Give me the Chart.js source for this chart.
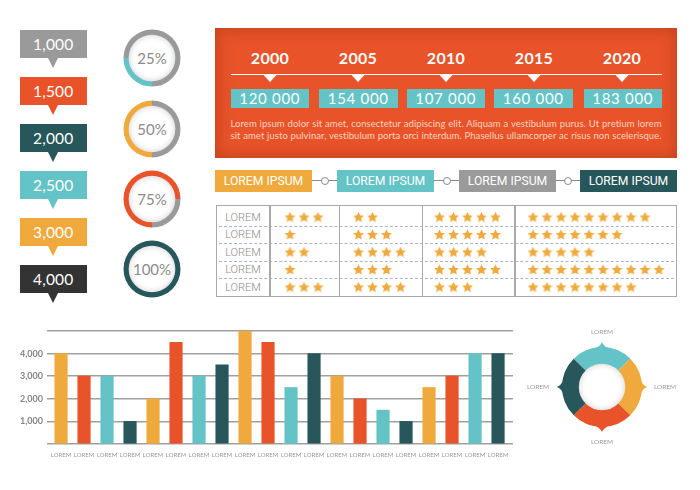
<!DOCTYPE html>
<html>
<head>
<meta charset="utf-8">
<title>Infographic</title>
<script src="https://cdn.jsdelivr.net/npm/chart.js@4"></script>
<style>
  body { margin: 0; background: #fff; width: 700px; height: 490px; overflow: hidden; position: relative; font-family: Lato, sans-serif; }
  .abs, canvas { position: absolute; }
  .center { display: flex; align-items: center; justify-content: center; white-space: nowrap; }
  .disc { border-radius: 50%; background: #fff; box-shadow: inset 0 0 7px #c4c4c4; color: #8b8b8b; }
  #panel { left: 215px; top: 28px; width: 462px; height: 130px; background: #e8532a; box-shadow: inset 0 0 16px rgba(150, 45, 10, .5); }
  #lorem { left: 230.5px; top: 118px; width: 431px; font-size: 9.5px; line-height: 12px; letter-spacing: .05px; color: #f9d3c0; text-align: justify; text-align-last: justify; white-space: normal; }
</style>
</head>
<body>
<div id="panel" class="abs"></div>
<div id="lorem" class="abs">Lorem ipsum dolor sit amet, consectetur adipiscing elit. Aliquam a vestibulum purus. Ut pretium lorem<br>sit amet justo pulvinar, vestibulum porta orci interdum. Phasellus ullamcorper ac risus non scelerisque.</div>
<canvas id="bars" width="530" height="145" style="left:0;top:320px"></canvas>
<canvas id="ring" width="100" height="100" style="left:552px;top:337px"></canvas>

<script>
// Data
const tagLabels = ['1,000', '1,500', '2,000', '2,500', '3,000', '4,000'];
const gaugePercents = [25, 50, 75, 100];
const years = ['2000', '2005', '2010', '2015', '2020'];
const yearValues = ['120 000', '154 000', '107 000', '160 000', '183 000'];
const stepLabels = ['LOREM IPSUM', 'LOREM IPSUM', 'LOREM IPSUM', 'LOREM IPSUM'];
const rowLabels = ['LOREM', 'LOREM', 'LOREM', 'LOREM', 'LOREM'];
const starsCol1 = [3, 1, 2, 1, 3];
const starsCol2 = [2, 3, 4, 3, 4];
const starsCol3 = [5, 5, 4, 5, 3];
const starsCol4 = [9, 7, 5, 10, 8];
const barLabels = ['LOREM', 'LOREM', 'LOREM', 'LOREM', 'LOREM', 'LOREM', 'LOREM', 'LOREM', 'LOREM', 'LOREM',
                   'LOREM', 'LOREM', 'LOREM', 'LOREM', 'LOREM', 'LOREM', 'LOREM', 'LOREM', 'LOREM', 'LOREM'];
const barValues = [4000, 3000, 3000, 1000, 2000, 4500, 3000, 3500, 5000, 4500,
                   2500, 4000, 3000, 2000, 1500, 1000, 2500, 3000, 4000, 4000];
const yTickLabels = ['', '1,000', '2,000', '3,000', '4,000', ''];
const ringLabels = ['LOREM', 'LOREM', 'LOREM', 'LOREM'];
const ringValues = [25, 25, 25, 25];

// Palette
const ORANGE = '#f0a93c', RED = '#e8532a', TEAL = '#63c3c6', DARK = '#27575a', GRAY = '#9a9a9a', COAL = '#333333';

Chart.defaults.font.family = 'Lato, sans-serif';
Chart.defaults.animation = false;
Chart.defaults.responsive = false;
Chart.defaults.plugins.legend.display = false;
Chart.defaults.plugins.tooltip.enabled = false;

// Small helper for absolutely placed boxes
function box(left, top, width, height, css, text, cls) {
    const el = document.createElement('div');
    el.className = 'abs ' + (cls || '');
    el.style.cssText = `left:${left}px;top:${top}px;width:${width}px;height:${height}px;${css || ''}`;
    if (text) el.textContent = text;
    document.body.appendChild(el);
    return el;
}

function triangle(cx, top, halfWidth, height, color) {
    box(cx - halfWidth, top, halfWidth * 2, height, `background:${color};clip-path:polygon(0 0,100% 0,50% 100%)`);
}

// Callout tags on the left
const tagColors = [GRAY, RED, DARK, TEAL, ORANGE, COAL];
tagLabels.forEach((label, i) => {
    const top = 30 + i * 47;
    box(20, top, 66.5, 28, `background:${tagColors[i]};color:#fff;font-size:15.5px;letter-spacing:.2px`, label, 'center');
    triangle(53, top + 28, 5, 10, tagColors[i]);
});

// Percent gauges
const gaugeColors = [TEAL, ORANGE, RED, DARK];
const gaugeCentersY = [58, 128.5, 199, 268.5];
gaugePercents.forEach((pct, i) => {
    const cy = gaugeCentersY[i];
    box(152 - 24, cy - 24, 48, 48, 'font-size:15px', pct + '%', 'center disc');
    const canvas = document.createElement('canvas');
    canvas.width = 60;
    canvas.height = 60;
    canvas.style.cssText = `left:${152 - 30}px;top:${cy - 30}px`;
    document.body.appendChild(canvas);
    new Chart(canvas, {
        type: 'doughnut',
        data: { datasets: [{ data: [pct, 100 - pct], backgroundColor: [gaugeColors[i], GRAY], borderWidth: 0 }] },
        options: { radius: 28.5, cutout: '82%', rotation: 180 }
    });
});

// Timeline panel
const yearCenters = [270, 358, 446, 534, 622];
const valueBoxes = [[230.5, 78.5], [319, 78.5], [406.5, 78.5], [494, 78.5], [584, 77.5]];
box(230.5, 73.5, 431, 1.5, 'background:#fff');
years.forEach((year, i) => {
    box(yearCenters[i] - 40, 47, 80, 20, 'color:#fff;font-size:16px;font-weight:700;letter-spacing:.3px', year, 'center');
    triangle(yearCenters[i], 75, 6.5, 7, '#fff');
    box(valueBoxes[i][0], 88.5, valueBoxes[i][1], 19.5, `background:${TEAL};color:#fff;font-size:15px;letter-spacing:.7px`, yearValues[i], 'center');
});

// Step boxes with connectors
const stepLefts = [215, 337, 459, 580];
const stepColors = [ORANGE, TEAL, GRAY, DARK];
box(312, 180.2, 268, 1, 'background:#8a8a8a');
stepLabels.forEach((label, i) => {
    box(stepLefts[i], 169.5, 97, 22.5, `background:${stepColors[i]};color:#fff;font:12.2px Roboto,sans-serif`, label, 'center');
});
[324.5, 446.5, 568].forEach(cx => {
    box(cx - 4, 176.5, 8, 8, 'background:#fff;border:1px solid #8a8a8a;border-radius:50%;box-sizing:border-box');
});

// Rating table frame
const TABLE_TOP = 205, TABLE_H = 92;
box(216, TABLE_TOP, 461, TABLE_H, 'border:1.5px solid #a8a8a8;box-sizing:border-box');
const colLines = [269, 338.5, 421.5, 514];
colLines.forEach(x => box(x, TABLE_TOP, 1.5, TABLE_H, 'background:#a8a8a8'));
[226, 243, 260.5, 277.5].forEach(y => box(219, y, 455, 0, 'border-top:1px dashed #aab4c2'));
rowLabels.forEach((label, i) => {
    box(217, 217 + i * 17.5 - 8, 52, 16, 'color:#8a8a8a;font:300 11px Roboto,sans-serif', label, 'center');
});

// Filled star used as point image
function makeStar(size, color) {
    const c = document.createElement('canvas');
    c.width = c.height = size;
    const g = c.getContext('2d');
    g.fillStyle = color;
    g.beginPath();
    for (let i = 0; i < 10; i++) {
        const r = i % 2 ? size * 0.25 : size * 0.52;
        const a = -Math.PI / 2 + i * Math.PI / 5;
        g.lineTo(size / 2 + r * Math.cos(a), size * 0.54 + r * Math.sin(a));
    }
    g.closePath();
    g.fill();
    return c;
}
const starImg = makeStar(11, '#f0ab3f');

// One scatter chart per table column, x = star number, y = row number
const STAR_STEP = 14, ROW_STEP = 17.5, FIRST_ROW = 12;
const starColumns = [
    { counts: starsCol1, left: 270, right: 338, first: 20 },
    { counts: starsCol2, left: 340, right: 421, first: 18.5 },
    { counts: starsCol3, left: 423, right: 514, first: 16.5 },
    { counts: starsCol4, left: 515, right: 676, first: 18 }
];
starColumns.forEach(col => {
    const width = col.right - col.left;
    const points = [];
    col.counts.forEach((n, row) => {
        for (let s = 0; s < n; s++) points.push({ x: s, y: row });
    });
    const canvas = document.createElement('canvas');
    canvas.width = width;
    canvas.height = TABLE_H;
    canvas.style.cssText = `left:${col.left}px;top:${TABLE_TOP}px`;
    document.body.appendChild(canvas);
    const xMin = -col.first / STAR_STEP, yMin = -FIRST_ROW / ROW_STEP;
    new Chart(canvas, {
        type: 'scatter',
        data: { datasets: [{ data: points, pointStyle: starImg, pointRadius: 6 }] },
        options: {
            layout: { autoPadding: false },
            scales: {
                x: { display: false, min: xMin, max: xMin + width / STAR_STEP },
                y: { display: false, reverse: true, min: yMin, max: yMin + TABLE_H / ROW_STEP }
            }
        }
    });
});

// Bar chart
const barCycle = [ORANGE, RED, TEAL, DARK];
new Chart(document.getElementById('bars'), {
    type: 'bar',
    data: {
        datasets: [{
            data: barValues.map((v, i) => ({ x: i, y: v })),
            backgroundColor: barValues.map((v, i) => barCycle[i % 4]),
            barThickness: 12.5
        }]
    },
    options: {
        layout: { padding: { top: 11, right: 17 } },
        scales: {
            x: {
                type: 'linear',
                offset: false,
                min: -0.61,
                max: 19.65,
                grid: { display: false, drawTicks: false, tickLength: 0 },
                border: { display: false },
                afterBuildTicks: s => { s.ticks = barLabels.map((l, i) => ({ value: i })); },
                afterFit: s => { s.height = 21; },
                ticks: {
                    autoSkip: false,
                    maxRotation: 0,
                    padding: 7,
                    color: '#999',
                    font: { size: 6 },
                    callback: v => barLabels[v]
                }
            },
            y: {
                min: 0,
                max: 5000,
                grid: { color: '#a0a0a0', lineWidth: 1.5, drawTicks: false },
                border: { display: false },
                afterFit: s => { s.width = 47; },
                ticks: {
                    stepSize: 1000,
                    padding: 4,
                    color: '#858585',
                    font: { size: 9, weight: '700' },
                    callback: (v, i) => yTickLabels[i]
                }
            }
        }
    }
});

// Ring with small pointed tips on each segment
const ringTips = {
    id: 'ringTips',
    afterDatasetDraw(chart) {
        const g = chart.ctx;
        chart.getDatasetMeta(0).data.forEach(arc => {
            const mid = (arc.startAngle + arc.endAngle) / 2;
            const r = arc.outerRadius;
            const at = (rad, ang) => [arc.x + rad * Math.cos(ang), arc.y + rad * Math.sin(ang)];
            g.save();
            g.fillStyle = arc.options.backgroundColor;
            g.beginPath();
            g.moveTo(...at(r - 1, mid - 0.24));
            g.quadraticCurveTo(...at(r + 0.3, mid - 0.04), ...at(r + 5, mid));
            g.quadraticCurveTo(...at(r + 0.3, mid + 0.04), ...at(r - 1, mid + 0.24));
            g.closePath();
            g.fill();
            g.restore();
        });
    }
};
box(602 - 24, 387 - 24, 48, 48, '', '', 'disc');
document.getElementById('ring').style.zIndex = 1;
new Chart(document.getElementById('ring'), {
    type: 'doughnut',
    data: {
        labels: ringLabels,
        datasets: [{ data: ringValues, backgroundColor: [TEAL, ORANGE, RED, DARK], borderWidth: 0 }]
    },
    options: { radius: 40, cutout: '58%', rotation: -45 },
    plugins: [ringTips]
});
const ringLabelCenters = [[602, 331], [665, 386.5], [602, 441], [538, 386.5]];
ringLabels.forEach((label, i) => {
    box(ringLabelCenters[i][0] - 20, ringLabelCenters[i][1] - 5, 40, 10, 'color:#999;font-size:6.5px', label, 'center');
});
</script>
</body>
</html>
